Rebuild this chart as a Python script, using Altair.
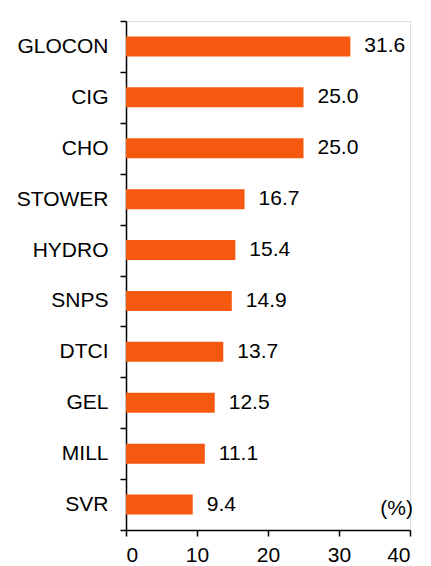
import altair as alt
import pandas as pd

companies = ["GLOCON", "CIG", "CHO", "STOWER", "HYDRO", "SNPS", "DTCI", "GEL", "MILL", "SVR"]
values = [31.6, 25.0, 25.0, 16.7, 15.4, 14.9, 13.7, 12.5, 11.1, 9.4]
x_ticks = [0, 10, 20, 30, 40]
unit_label = "(%)"

df = pd.DataFrame({"company": companies, "value": values})

FONT = "Liberation Sans"
ORANGE = "#F4590F"
FS = 21

y_enc = alt.Y(
    "company:N",
    sort=companies,
    title=None,
    scale=alt.Scale(paddingInner=0, paddingOuter=0),
    axis=alt.Axis(
        tickBand="extent",
        tickSize=6,
        tickColor="black",
        domainColor="black",
        domainWidth=1.5,
        tickWidth=1.5,
        labelFont=FONT,
        labelFontSize=FS,
        labelColor="black",
        labelPadding=12,
    ),
)
x_enc = alt.X(
    "value:Q",
    title=None,
    scale=alt.Scale(domain=[0, 40], nice=False),
    axis=alt.Axis(
        values=x_ticks,
        grid=False,
        tickSize=6,
        tickColor="black",
        domainColor="black",
        domainWidth=1.5,
        tickWidth=1.5,
        labelFont=FONT,
        labelFontSize=FS,
        labelColor="black",
        labelPadding=8,
    ),
)

bars = alt.Chart(df).mark_bar(color=ORANGE, size=20).encode(x=x_enc, y=y_enc)

labels = alt.Chart(df).mark_text(
    align="left", baseline="middle", dx=14, font=FONT, fontSize=FS, color="black"
).encode(x="value:Q", y=alt.Y("company:N", sort=companies), text=alt.Text("value:Q", format=".1f"))

unit = alt.Chart(pd.DataFrame({"t": [unit_label], "v": [40]})).mark_text(
    align="right", baseline="alphabetic", dx=3, font=FONT, fontSize=FS, color="black"
).encode(x=alt.X("v:Q"), y=alt.value(494), text="t:N")

chart = (
    alt.layer(bars, labels, unit)
    .properties(
        width=284,
        height=509,
        autosize=alt.AutoSizeParams(type="none"),
        padding={"left": 118, "top": 13, "right": 13, "bottom": 40},
    )
    .configure_view(stroke=None)
    .configure(background="white")
)

chart.save("out.html", embed_options={"renderer": "svg", "actions": False})
